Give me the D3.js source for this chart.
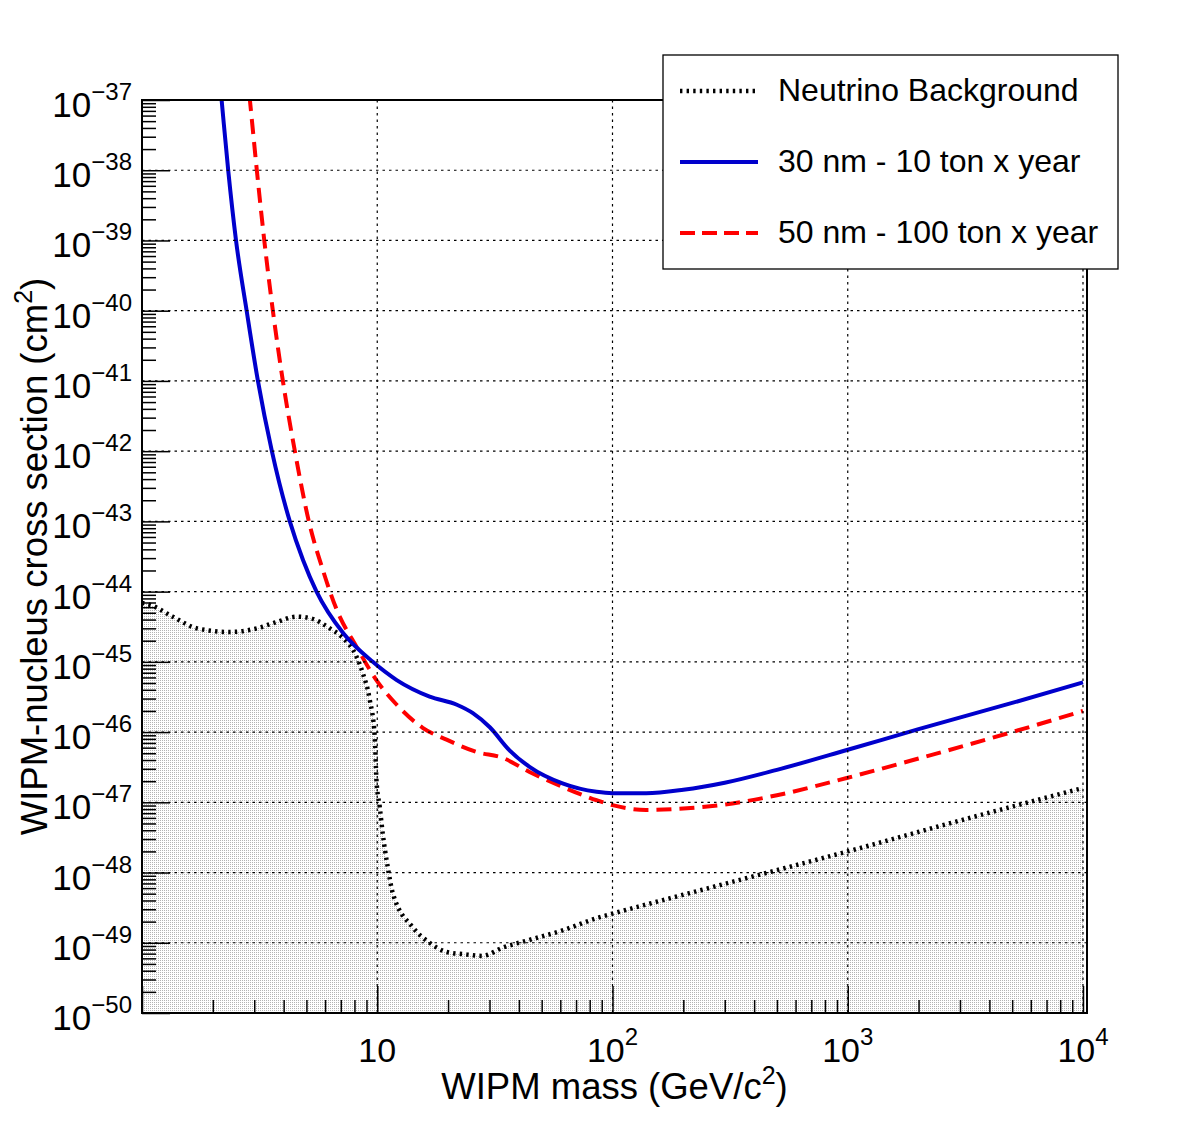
<!DOCTYPE html>
<html lang="en">
<head>
<meta charset="UTF-8">
<title>WIPM-nucleus cross section</title>
<style>
  body { margin: 0; background: #fff; }
  svg text { font-family: "Liberation Sans", Arial, Helvetica, sans-serif; fill: #000; }
</style>
</head>
<body>
<div id="chart"></div>
<script src="https://d3js.org/d3.v7.min.js"></script>
<script>
// neutrino background (black dotted, filled below)
const nuMass = [1.0, 1.08, 1.35, 1.71, 2.36, 3.08, 3.74, 4.55, 5.17, 6.29, 7.14, 8.18, 8.68, 9.29, 9.76, 9.92,
  10.25, 10.55, 11.08, 11.64, 14.15, 16.7, 19.7, 23.1, 28.0, 34.1, 44.4, 61.3, 85.6, 100, 139, 300, 1000, 3000, 10000];
const nuXsec = [6.9e-45, 6.5e-45, 4.4e-45, 3.0e-45, 2.66e-45, 3.0e-45, 3.7e-45, 4.4e-45, 4.2e-45, 3.0e-45, 2.2e-45,
  1.17e-45, 6.9e-46, 2.9e-46, 8.5e-47, 2.1e-47, 8.5e-48, 3.6e-48, 1.2e-48, 5.1e-49, 1.66e-49, 1.0e-49, 7.4e-50,
  6.9e-50, 6.5e-50, 8.5e-50, 1.1e-49, 1.5e-49, 2.24e-49, 2.6e-49, 3.5e-49, 6.9e-49, 2.0e-48, 5.5e-48, 1.6e-47];

// 30 nm - 10 ton x year (blue solid)
const blueMass = [2.1, 2.18, 2.325, 2.51, 2.785, 3.11, 3.565, 4.25, 4.84, 5.52, 7.16, 9.57, 12.1, 16.7, 21.8, 25.5,
  30.1, 36.5, 44.4, 61.3, 85.6, 100, 139, 200, 300, 500, 1000, 2000, 5000, 10000];
const blueXsec = [3.8e-37, 1e-37, 1e-38, 1e-39, 1e-40, 1e-41, 1e-42, 1e-43, 2.8e-44, 1e-44, 2.57e-45, 1e-45, 5.5e-46,
  3.2e-46, 2.45e-46, 1.86e-46, 1.17e-46, 5.5e-47, 3.2e-47, 1.86e-47, 1.41e-47, 1.35e-47, 1.35e-47, 1.51e-47,
  1.9e-47, 2.9e-47, 5.6e-47, 1.1e-46, 2.6e-46, 5.1e-46];

// 50 nm - 100 ton x year (red dashed)
const redMass = [2.8, 2.875, 3.077, 3.31, 3.6, 3.97, 4.465, 5.12, 5.87, 6.73, 8.18, 9.95, 12.1, 15.6, 19.7, 26.5,
  34.1, 44.4, 61.3, 85.6, 100, 139, 192, 300, 500, 1000, 2000, 5000, 10000];
const redXsec = [2.4e-37, 1e-37, 1e-38, 1e-39, 1e-40, 1e-41, 1e-42, 1e-43, 2.04e-44, 5.5e-45, 1.62e-45, 5.4e-46,
  2.45e-46, 1.15e-46, 7.8e-47, 5.2e-47, 4.3e-47, 2.7e-47, 1.66e-47, 1.07e-47, 9.1e-48, 7.8e-48, 8.1e-48,
  9.3e-48, 1.26e-47, 2.24e-47, 4.2e-47, 1.0e-46, 2.0e-46];

const xMajor = [1, 10, 100, 1000, 10000];
const xLabelExp = [1, 2, 3, 4];          // labels drawn at 10^1 .. 10^4
const yExps = d3.range(-50, -36);        // -50 .. -37

const legendLabels = ["Neutrino Background", "30 nm - 10 ton x year", "50 nm - 100 ton x year"];

const width = 1182, height = 1142;
const pLeft = 142, pRight = 1087, pTop = 100, pBottom = 1013;

const svg = d3.select("#chart").append("svg")
  .attr("width", width)
  .attr("height", height);

svg.append("rect").attr("width", width).attr("height", height).attr("fill", "#fff");

const x = d3.scaleLog().domain([1, 10400]).range([pLeft, pRight]);
const y = d3.scaleLog().domain([1e-50, 1e-37]).range([pBottom, pTop]);

const defs = svg.append("defs");
const pat = defs.append("pattern")
  .attr("id", "dots")
  .attr("width", 2).attr("height", 2)
  .attr("patternUnits", "userSpaceOnUse");
pat.append("rect").attr("width", 1).attr("height", 1).attr("fill", "#b4b4b4");

defs.append("clipPath").attr("id", "plot")
  .append("rect")
  .attr("x", pLeft).attr("y", pTop)
  .attr("width", pRight - pLeft).attr("height", pBottom - pTop);

const nu = nuMass.map((m, i) => [m, nuXsec[i]]);
const blue = blueMass.map((m, i) => [m, blueXsec[i]]);
const red = redMass.map((m, i) => [m, redXsec[i]]);

const line = d3.line()
  .x(d => x(d[0]))
  .y(d => y(d[1]))
  .curve(d3.curveMonotoneX);

const area = d3.area()
  .x(d => x(d[0]))
  .y0(pBottom)
  .y1(d => y(d[1]))
  .curve(d3.curveMonotoneX);

const plot = svg.append("g").attr("clip-path", "url(#plot)");

// shaded region below the neutrino floor
plot.append("path")
  .datum(nu)
  .attr("d", area)
  .attr("fill", "url(#dots)");

// grid
const grid = svg.append("g")
  .attr("stroke", "#000")
  .attr("stroke-width", 1.2)
  .attr("stroke-dasharray", "2.5,4");
grid.selectAll(".gx")
  .data(xMajor.slice(1))
  .join("line")
  .attr("x1", d => x(d)).attr("x2", d => x(d))
  .attr("y1", pTop).attr("y2", pBottom);
grid.selectAll(".gy")
  .data(yExps.slice(1, -1))
  .join("line")
  .attr("x1", pLeft).attr("x2", pRight)
  .attr("y1", d => y(Math.pow(10, d))).attr("y2", d => y(Math.pow(10, d)));

// curves
plot.append("path")
  .datum(nu)
  .attr("d", line)
  .attr("fill", "none")
  .attr("stroke", "#000")
  .attr("stroke-width", 4.5)
  .attr("stroke-dasharray", "2.4,4.2");

plot.append("path")
  .datum(red)
  .attr("d", line)
  .attr("fill", "none")
  .attr("stroke", "#ff0000")
  .attr("stroke-width", 4)
  .attr("stroke-dasharray", "15,8");

plot.append("path")
  .datum(blue)
  .attr("d", line)
  .attr("fill", "none")
  .attr("stroke", "#0000cc")
  .attr("stroke-width", 4);

// ticks (inside the frame)
const yMinor = [];
yExps.slice(0, -1).forEach(e => { for (let j = 2; j <= 9; j++) yMinor.push(j * Math.pow(10, e)); });
const xMinor = [];
[0, 1, 2, 3].forEach(e => { for (let j = 2; j <= 9; j++) xMinor.push(j * Math.pow(10, e)); });

const yAxisMinor = svg.append("g")
  .attr("transform", `translate(${pLeft},0)`)
  .call(d3.axisLeft(y).tickValues(yMinor).tickSize(-14).tickFormat(""));
const yAxisMajor = svg.append("g")
  .attr("transform", `translate(${pLeft},0)`)
  .call(d3.axisLeft(y).tickValues(yExps.map(e => Math.pow(10, e))).tickSize(-28).tickFormat(""));
const xAxisMinor = svg.append("g")
  .attr("transform", `translate(0,${pBottom})`)
  .call(d3.axisBottom(x).tickValues(xMinor).tickSize(-13).tickFormat(""));
const xAxisMajor = svg.append("g")
  .attr("transform", `translate(0,${pBottom})`)
  .call(d3.axisBottom(x).tickValues(xMajor).tickSize(-27).tickFormat(""));

[yAxisMinor, yAxisMajor, xAxisMinor, xAxisMajor].forEach(g => {
  g.select(".domain").remove();
  g.selectAll(".tick line").attr("stroke", "#000").attr("stroke-width", 1.5);
});

// frame
svg.append("rect")
  .attr("x", pLeft).attr("y", pTop)
  .attr("width", pRight - pLeft).attr("height", pBottom - pTop)
  .attr("fill", "none")
  .attr("stroke", "#000")
  .attr("stroke-width", 2);

// y tick labels
yExps.forEach(e => {
  const t = svg.append("text")
    .attr("x", pLeft - 10)
    .attr("y", y(Math.pow(10, e)) + 17)
    .attr("text-anchor", "end")
    .style("font-size", "35px");
  t.append("tspan").text("10");
  t.append("tspan").attr("dy", -17).style("font-size", "24px").text("\u2212" + Math.abs(e));
});

// x tick labels
xLabelExp.forEach(e => {
  const t = svg.append("text")
    .attr("x", x(Math.pow(10, e)))
    .attr("y", 1062)
    .attr("text-anchor", "middle")
    .style("font-size", "34px");
  t.append("tspan").text("10");
  if (e > 1) t.append("tspan").attr("dy", -17).style("font-size", "24px").text(e);
});

// axis titles
const xt = svg.append("text")
  .attr("x", (pLeft + pRight) / 2)
  .attr("y", 1099)
  .attr("text-anchor", "middle")
  .style("font-size", "36.5px");
xt.append("tspan").text("WIPM mass (GeV/c");
xt.append("tspan").attr("dy", -15).style("font-size", "25px").text("2");
xt.append("tspan").attr("dy", 15).text(")");

const yt = svg.append("text")
  .attr("transform", `translate(47,${(pTop + pBottom) / 2}) rotate(-90)`)
  .attr("text-anchor", "middle")
  .style("font-size", "36.5px");
yt.append("tspan").text("WIPM-nucleus cross section (cm");
yt.append("tspan").attr("dy", -15).style("font-size", "25px").text("2");
yt.append("tspan").attr("dy", 15).text(")");

// legend
const lg = svg.append("g");
lg.append("rect")
  .attr("x", 663).attr("y", 55)
  .attr("width", 455).attr("height", 214)
  .attr("fill", "#fff")
  .attr("stroke", "#000")
  .attr("stroke-width", 1.3);

const legendStyles = [
  { color: "#000", dash: "2.4,4.2", w: 4.5 },
  { color: "#0000cc", dash: null, w: 4 },
  { color: "#ff0000", dash: "15,7", w: 4 }
];
const rowY = [91, 162, 233];

legendLabels.forEach((label, i) => {
  lg.append("line")
    .attr("x1", 680).attr("x2", 758)
    .attr("y1", rowY[i]).attr("y2", rowY[i])
    .attr("stroke", legendStyles[i].color)
    .attr("stroke-width", legendStyles[i].w)
    .attr("stroke-dasharray", legendStyles[i].dash);
  lg.append("text")
    .attr("x", 778)
    .attr("y", rowY[i] + 10)
    .style("font-size", "32px")
    .text(label);
});
</script>
</body>
</html>
